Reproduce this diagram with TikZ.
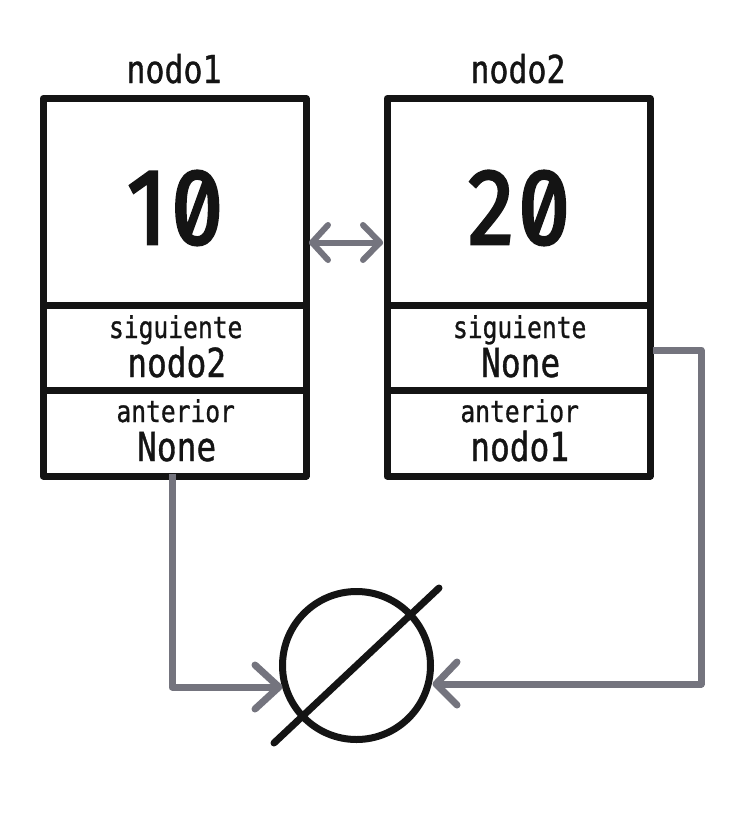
\documentclass[tikz,border=0pt]{standalone}
\usepackage{fontspec}
\setmainfont[FakeStretch=0.82,FakeBold=0.9]{DejaVu Sans Mono}
\newfontfamily\digitfont[Numbers={SlashedZero,Proportional},FakeStretch=0.86,FakeBold=2.4,LetterSpace=4]{Fira Sans}
\usetikzlibrary{arrows.meta}
\definecolor{ink}{HTML}{141414}
\definecolor{wire}{HTML}{74747E}
\tikzset{x=1pt,y=-1pt,
 boxpart/.style={draw=ink,line width=7pt,line join=round,minimum width=263pt,inner sep=0pt,outer sep=0pt,anchor=north west},
 lbl/.style={text=ink,inner sep=0pt,anchor=base},
 big/.style={lbl,font=\digitfont\fontsize{108}{108}\selectfont},
 head/.style={lbl,font=\fontsize{38.5}{38.5}\selectfont},
 small/.style={lbl,font=\fontsize{30}{30}\selectfont},
 val/.style={lbl,font=\fontsize{40}{40}\selectfont},
 wireline/.style={draw=wire,line width=7pt,line join=round},
 wirehead/.style={draw=wire,line width=7pt,line join=round,line cap=round},
 thinline/.style={draw=wire,line width=6pt,line join=round,line cap=round}}
\begin{document}
\begin{tikzpicture}
\useasboundingbox (0,0) rectangle (744,815);
\fill[white] (0,0) rectangle (744,815);
\node[boxpart,minimum height=206.5pt] (a1) at (43,98.5) {};
\node[boxpart,minimum height=85.5pt] (a2) at (43,305) {};
\node[boxpart,minimum height=85.5pt] (a3) at (43,390.5) {};
\node[boxpart,minimum height=206.5pt] (b1) at (387,98.5) {};
\node[boxpart,minimum height=85.5pt] (b2) at (387,305) {};
\node[boxpart,minimum height=85.5pt] (b3) at (387,390.5) {};
\node[head] (t1) at (174,83) {nodo1};
\node[head] (t2) at (518,83) {nodo2};
\node[big] (v1) at (175,244) {10};
\node[big] (v2) at (519,244) {20};
\node[small] (s1) at (175.7,338) {siguiente};
\node[val] (n1) at (176.7,377) {nodo2};
\node[small] (p1) at (175.7,422) {anterior};
\node[val] (m1) at (176.7,461) {None};
\node[small] (s2) at (519.7,338) {siguiente};
\node[val] (n2) at (520.7,377) {None};
\node[small] (p2) at (519.7,422) {anterior};
\node[val] (m2) at (519.7,461) {nodo1};
\node[circle,draw=ink,line width=7pt,minimum size=148pt,inner sep=0pt] (nul) at (356.5,665.5) {};
\coordinate (c1) at (172,687);
\coordinate (c2) at (701,684);
\coordinate (c3) at (701,350);
\draw[wireline] (172,474) -- (c1) -- (278,687);
\draw[wirehead] (255,665) -- (279,687) -- (255,709);
\draw[wireline] (653,350) -- (c3) -- (c2) -- (436,684);
\draw[wirehead] (457,662) -- (436,684) -- (457,705);
\draw[thinline] (312,242.5) -- (380,242.5);
\draw[thinline] (328,225) -- (312,242.5) -- (328,260);
\draw[thinline] (363,225) -- (380,242.5) -- (363,260);
\draw[draw=ink,line width=7pt,line cap=round] (439,588) -- (274,743);
\end{tikzpicture}
\end{document}
